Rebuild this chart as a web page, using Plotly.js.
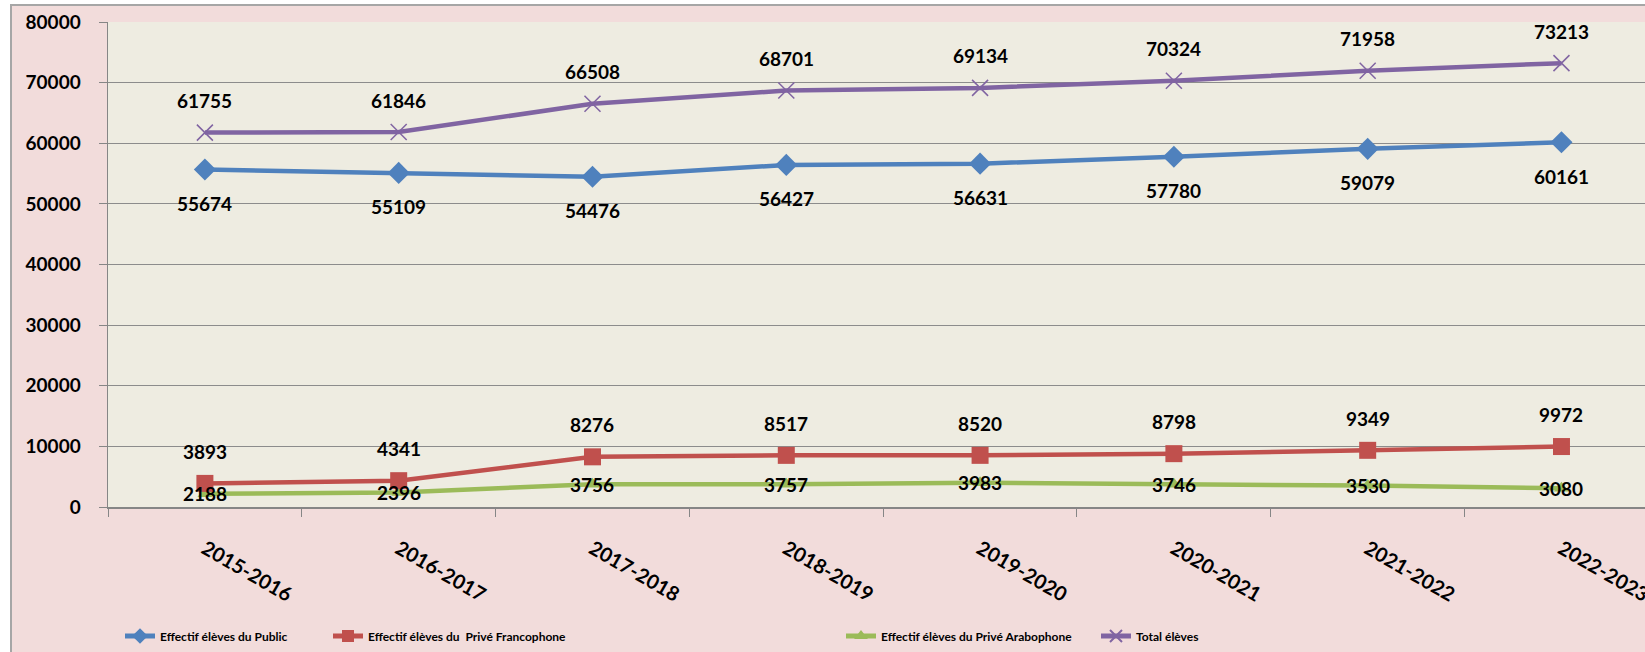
<!DOCTYPE html>
<html>
<head>
<meta charset="utf-8">
<script src="https://cdn.plot.ly/plotly-3.0.1.min.js"></script>
<style>
html, body { margin:0; padding:0; background:#ffffff; overflow:hidden; width:1645px; height:652px; }
#frame { position:absolute; left:10px; top:4px; width:1635px; height:648px; border-left:2px solid #A6A6A6; border-top:2px solid #A6A6A6; background:#F2DCDB; }
#chart { position:absolute; left:0; top:0; width:1633px; height:646px; }
</style>
</head>
<body>
<div id="frame"><div id="chart"></div></div>
<script>
var categories = ["2015-2016","2016-2017","2017-2018","2018-2019","2019-2020","2020-2021","2021-2022","2022-2023"];
var publicValues = [55674, 55109, 54476, 56427, 56631, 57780, 59079, 60161];
var francoValues = [3893, 4341, 8276, 8517, 8520, 8798, 9349, 9972];
var araboValues = [2188, 2396, 3756, 3757, 3983, 3746, 3530, 3080];
var totalValues = [61755, 61846, 66508, 68701, 69134, 70324, 71958, 73213];
var seriesNames = ["Effectif élèves du Public", "Effectif élèves du  Privé Francophone", "Effectif élèves du Privé Arabophone", "Total élèves"];
var yTicks = [0, 10000, 20000, 30000, 40000, 50000, 60000, 70000, 80000];

var boldFont = "Lato, 'Open Sans', sans-serif";

function mkTrace(vals, name, color, symbol, size, legendId, mline) {
  return {
    type: 'scatter', mode: 'lines+markers', x: categories, y: vals, name: name,
    line: {color: color, width: 4.5},
    marker: {color: color, symbol: symbol, size: size, line: mline || {width: 0}},
    legend: legendId, hoverinfo: 'x+y'
  };
}

var traces = [
  mkTrace(araboValues, seriesNames[2], '#9BBB59', 'triangle-up', 13, 'legend3'),
  mkTrace(francoValues, seriesNames[1], '#C0504D', 'square', 17, 'legend2'),
  mkTrace(publicValues, seriesNames[0], '#4F81BD', 'diamond', 17, 'legend'),
  mkTrace(totalValues, seriesNames[3], '#8064A2', 'x-thin-open', 16, 'legend4', {color:'#8064A2', width:1.5})
];

var annotations = [];
function addLabels(vals, shift) {
  for (var i = 0; i < categories.length; i++) {
    annotations.push({x: categories[i], y: vals[i], xref: 'x', yref: 'y', text: String(vals[i]),
      showarrow: false, yshift: shift,
      font: {family: boldFont, size: 19, color: '#000000', weight: 'bold'}});
  }
}
addLabels(publicValues, -34);
addLabels(totalValues, 32);
addLabels(francoValues, 32);
addLabels(araboValues, 0);

function leg(xPage) {
  return {orientation: 'h', xref: 'container', yref: 'container', x: (xPage - 12) / 1633, y: (646 - 630) / 646,
    xanchor: 'left', yanchor: 'middle', bgcolor: 'rgba(0,0,0,0)', borderwidth: 0,
    font: {family: boldFont, size: 12, color: '#000000', weight: 'bold'}, itemsizing: 'constant'};
}

var layout = {
  width: 1633, height: 646,
  margin: {l: 96, r: 0, t: 16, b: 145, pad: 0},
  paper_bgcolor: '#F2DCDB', plot_bgcolor: '#EEECE1',
  showlegend: true,
  legend: leg(120), legend2: leg(328), legend3: leg(841), legend4: leg(1096),
  xaxis: {
    type: 'category', range: [-0.5, 7.431], tickson: 'boundaries', ticks: 'outside', ticklen: 8,
    tickcolor: '#868686', showline: true, linecolor: '#868686', linewidth: 1.5, showgrid: false,
    tickangle: 30, ticklabelstandoff: 21, automargin: false,
    tickfont: {family: boldFont, size: 20, color: '#000000', weight: 'bold'}
  },
  yaxis: {
    range: [0, 80000], tickvals: yTicks, ticktext: yTicks.map(String), ticks: 'outside', ticklen: 8,
    tickcolor: '#868686', showline: true, linecolor: '#868686', linewidth: 1.5,
    showgrid: true, gridcolor: '#8C8C8C', gridwidth: 1, zeroline: false, automargin: false,
    ticklabelstandoff: 14,
    tickfont: {family: boldFont, size: 19, color: '#000000', weight: 'bold'}
  },
  annotations: annotations
};

Plotly.newPlot('chart', traces, layout, {displayModeBar: false, staticPlot: true});
</script>
</body>
</html>
